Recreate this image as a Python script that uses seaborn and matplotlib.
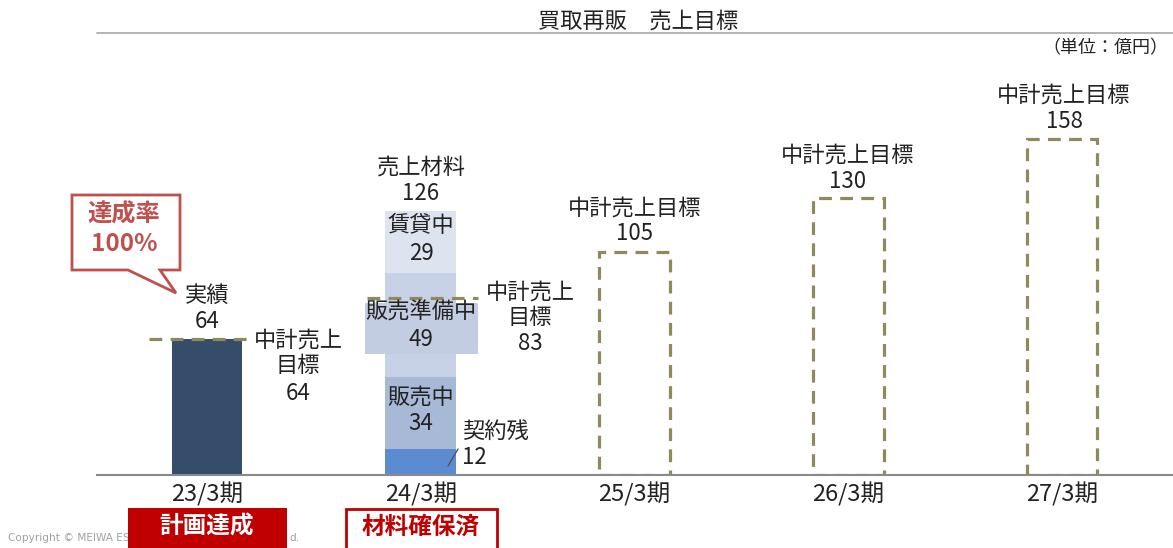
import matplotlib
matplotlib.use("Agg")
import matplotlib.pyplot as plt
import seaborn as sns
import numpy as np
from matplotlib.patches import Rectangle, Polygon
from matplotlib.lines import Line2D

# data
periods = ["23/3期", "24/3期", "25/3期", "26/3期", "27/3期"]
actual_periods = ["23/3期"]
actual_values = [64]
plan_values = [64, 83, 105, 130, 158]
material_labels = ["契約残", "販売中", "販売準備中", "賃貸中"]
material_values = [12, 34, 49, 29]
material_total = 126

W, H = 1173, 548
navy = "#354c6b"
olive = "#8e8a5e"
red = "#c00000"
callout_red = "#c0504d"
seg_colors = ["#5b8bd0", "#a8b9d8", "#c8d2e6", "#dde3ef"]

sns.set_style("white")
plt.rcParams["font.family"] = ["Noto Sans CJK JP", "DejaVu Sans"]


def px(x, y):
    # pixel position (from top-left) -> figure fraction
    return x / W, 1 - y / H


fig = plt.figure(figsize=(W / 100, H / 100), dpi=100)
ax_l, ax_b = px(97, 475)
ax_r, ax_t = px(1173, 70)
ax = fig.add_axes([ax_l, ax_b, ax_r - ax_l, ax_t - ax_b])

bar_w = 0.33

# actual result bar
sns.barplot(x=actual_periods, y=actual_values, order=periods, color=navy,
            width=bar_w, saturation=1, linewidth=0, ax=ax, zorder=2)

# future plan targets as dashed outline bars
sns.barplot(x=periods[2:], y=plan_values[2:], order=periods, fill=False,
            color=olive, width=bar_w, linewidth=2.3, linestyle=(0, (4, 2.6)),
            ax=ax, zorder=2)

# stacked sales material for 24/3
bottom = 0
for val, col in zip(material_values, seg_colors):
    ax.bar(periods.index("24/3期"), val, bottom=bottom, width=bar_w,
           color=col, linewidth=0, zorder=2)
    bottom += val

# plan lines for 23/3 and 24/3
ax.plot([-0.27, 0.19], [plan_values[0]] * 2, color=olive, lw=2.3,
        ls=(0, (4, 2.6)), zorder=4)
ax.plot([0.75, 1.27], [plan_values[1]] * 2, color=olive, lw=2.3,
        ls=(0, (4, 2.6)), zorder=4)

ax.set_xlim(-(207 - 97) / 213.75, (1173 - 207) / 213.75)
ax.set_ylim(0, 405 / 2.127)
ax.set_xlabel("")
ax.set_ylabel("")
ax.set_yticks([])
ax.tick_params(axis="x", length=0, labelsize=17, colors="#222222", pad=5)
for s in ["top", "left", "right"]:
    ax.spines[s].set_visible(False)
ax.spines["bottom"].set_color("#8a8a8a")
ax.spines["bottom"].set_linewidth(1.5)
ax.spines["bottom"].set_zorder(5)

# label box behind 販売準備中
x0, y0 = px(365, 354)
x1, y1 = px(478, 303)
fig.patches.append(Rectangle((x0, y0), x1 - x0, y1 - y0, transform=fig.transFigure,
                             facecolor="#c3cde2", edgecolor="none", zorder=3))


def ftext(x, y, s, size=16, **kw):
    fx, fy = px(x, y)
    kw.setdefault("ha", "center")
    kw.setdefault("color", "#222222")
    fig.text(fx, fy, s, fontsize=size, va="center", zorder=10, **kw)


# title
ftext(638, 21, "買取再販　売上目標", size=16)
fig.add_artist(Line2D([97 / W, 1], [1 - 33 / H] * 2, color="#a6a6a6", lw=1.2,
                      transform=fig.transFigure))
ftext(1168, 48, "（単位：億円）", size=13, ha="right")

# 23/3 labels
ftext(207, 295, "実績")
ftext(207, 321, str(actual_values[0]))
ftext(298, 340, "中計売上")
ftext(298, 366, "目標")
ftext(298, 393, str(plan_values[0]))

# 24/3 labels
ftext(421, 167, "売上材料")
ftext(421, 193, str(material_total))
ftext(421, 226, material_labels[3])
ftext(421, 253, str(material_values[3]))
ftext(421, 312, material_labels[2])
ftext(421, 339, str(material_values[2]))
ftext(421, 397, material_labels[1])
ftext(421, 423, str(material_values[1]))
ftext(462, 431, material_labels[0], ha="left")
ftext(462, 457, str(material_values[0]), ha="left")
fig.add_artist(Line2D([448 / W, 458 / W], [1 - 466 / H, 1 - 449 / H],
                      color="#555555", lw=1, transform=fig.transFigure))
ftext(530, 292, "中計売上")
ftext(530, 318, "目標")
ftext(530, 344, str(plan_values[1]))

# future targets
for cx, ty, val in zip([635, 848, 1064], [208, 155, 95], plan_values[2:]):
    ftext(cx, ty, "中計売上目標")
    ftext(cx, ty + 26, str(val))

# callout
pts = [(72, 195), (180, 195), (180, 270), (160, 270), (176, 293), (128, 270), (72, 270)]
fig.patches.append(Polygon([px(x, y) for x, y in pts], closed=True,
                           transform=fig.transFigure, facecolor="white",
                           edgecolor=callout_red, lw=2, zorder=6))
ftext(124, 215, "達成率", size=17.5, color=callout_red, weight="bold")
ftext(124, 244, "100%", size=17.5, color=callout_red, weight="bold")

# copyright (middle part is covered by the red badge)
ftext(8, 538, "Copyright © MEIWA ES", size=7.6, ha="left", color="#a0a0a0",
      family="DejaVu Sans")
ftext(289, 538, "d.", size=7.6, ha="left", color="#a0a0a0", family="DejaVu Sans")

# bottom badges
bx0, by0 = px(128, 548)
bx1, by1 = px(287, 508)
fig.patches.append(Rectangle((bx0, by0), bx1 - bx0, by1 - by0, transform=fig.transFigure,
                             facecolor=red, edgecolor="none", zorder=20))
bx0, by0 = px(346, 549)
bx1, by1 = px(497, 509)
fig.patches.append(Rectangle((bx0, by0), bx1 - bx0, by1 - by0, transform=fig.transFigure,
                             facecolor="white", edgecolor=red, lw=2, zorder=20))
fx, fy = px(207, 527)
fig.text(fx, fy, "計画達成", fontsize=17, color="white", weight="bold",
         ha="center", va="center", zorder=21)
fx, fy = px(421, 527)
fig.text(fx, fy, "材料確保済", fontsize=17, color=red, weight="bold",
         ha="center", va="center", zorder=21)

fig.savefig("out.png", dpi=100)
